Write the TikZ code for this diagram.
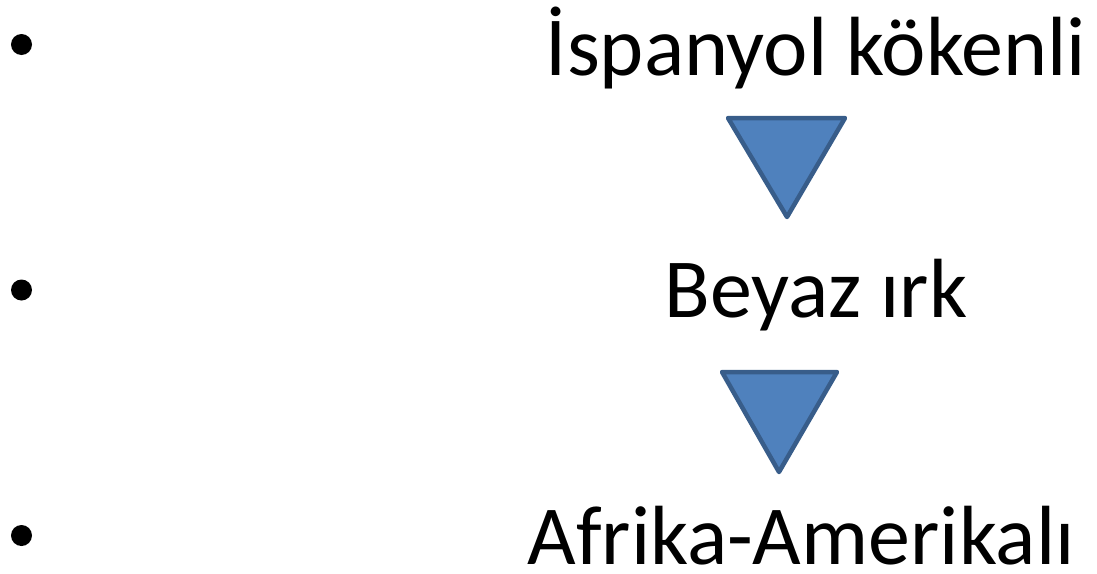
\documentclass[tikz,border=0pt]{standalone}
\usepackage{fontspec}
\setmainfont{Carlito}
\definecolor{trifill}{HTML}{4F81BD}
\definecolor{tridraw}{HTML}{385D8A}
\begin{document}
\begin{tikzpicture}[x=1pt,y=-1pt,
  lbl/.style={inner sep=0pt,anchor=base,text depth=0pt,font=\fontsize{84}{96}\selectfont},
  bul/.style={fill=black,circle,inner sep=0pt,minimum size=21pt},
  tri/.style={fill=trifill,draw=tridraw,line width=4.5pt,line join=round}]
\useasboundingbox (0,0) rectangle (1097,573);
\node[bul] (b1) at (21.5,44.5) {};
\node[bul] (b2) at (21.5,290) {};
\node[bul] (b3) at (21.5,535.5) {};
\node[lbl] (t1) at (816,75) {İspanyol kökenli};
\node[lbl] (t2) at (816,317) {Beyaz ırk};
\node[lbl] (t3) at (801,564) {Afrika-Amerikalı};
\coordinate (a1) at (728,118);
\coordinate (a2) at (845,118);
\coordinate (a3) at (787,217);
\draw[tri] (a1) -- (a2) -- (a3) -- cycle;
\coordinate (c1) at (722,372);
\coordinate (c2) at (837,372);
\coordinate (c3) at (779,472);
\draw[tri] (c1) -- (c2) -- (c3) -- cycle;
\end{tikzpicture}
\end{document}
